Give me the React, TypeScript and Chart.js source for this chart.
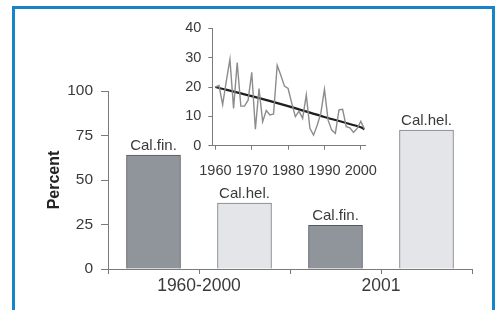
import React, { useEffect, useRef } from "react";
import { Chart, registerables } from "chart.js";

Chart.register(...registerables);

// ---- Main bar chart data ----
const groups = ["1960-2000", "2001"];
const barLabels = ["Cal.fin.", "Cal.hel.", "Cal.fin.", "Cal.hel."];
const barValues = [64, 37, 24.5, 78];
const barFill = ["#8f959b", "#e3e5e8", "#8f959b", "#e3e5e8"];
const barEdge = ["#55595d", "#7c7f82", "#55595d", "#7c7f82"];
const percentTicks = [0, 25, 50, 75, 100];

// ---- Inset line chart data ----
const years = [
  1960, 1961, 1962, 1963, 1964, 1965, 1966, 1967, 1968, 1969,
  1970, 1971, 1972, 1973, 1974, 1975, 1976, 1977, 1978, 1979,
  1980, 1981, 1982, 1983, 1984, 1985, 1986, 1987, 1988, 1989,
  1990, 1991, 1992, 1993, 1994, 1995, 1996, 1997, 1998, 1999,
  2000, 2001,
];
const annualValues = [
  20, 20.5, 14, 22, 29.5, 12.7, 28.3, 13.5, 13.5, 15.5,
  25, 5.6, 19.5, 8.2, 12, 10.5, 10.8, 27.4, 24, 20.3,
  19.5, 14.5, 9.9, 11.8, 9.3, 17.3, 5.9, 3.6, 7, 11,
  19.2, 8.7, 5.3, 4.2, 12.2, 12.4, 6.5, 6.1, 4.5, 5.9,
  8.3, 5.7,
];
const trendYears = [1960, 1970, 1980, 1990, 2000, 2001];
const trendValues = [20, 16.9, 13.5, 9.8, 6.3, 5.6];
const decadeTicks = [1960, 1970, 1980, 1990, 2000];

const FONT = "'Liberation Sans', Arial, Helvetica, sans-serif";
const TEXT = "#3a3a3a";
const AXIS = "#7a7a7a";

const barLabelPlugin = {
  id: "barLabels",
  afterDatasetsDraw(chart: any) {
    const meta = chart.getDatasetMeta(0);
    const ctx = chart.ctx;
    ctx.save();
    ctx.font = `15px ${FONT}`;
    ctx.fillStyle = TEXT;
    ctx.textAlign = "center";
    ctx.textBaseline = "bottom";
    meta.data.forEach((el: any, i: number) => {
      ctx.fillText(barLabels[i], el.x, el.y - 2);
    });
    ctx.restore();
  },
};

function MainChart() {
  const ref = useRef<HTMLCanvasElement>(null);
  useEffect(() => {
    Chart.defaults.font.family = FONT;
    const chart = new Chart(ref.current!, {
      type: "bar",
      data: {
        datasets: [
          {
            data: barValues.map((v, i) => ({ x: i + 0.5, y: v })),
            backgroundColor: barFill,
            borderColor: barEdge,
            borderWidth: 1,
            barThickness: 54,
          } as any,
        ],
      },
      options: {
        responsive: false,
        animation: false,
        events: [],
        layout: { padding: { left: 0, top: 91, right: 26, bottom: 0 } },
        plugins: { legend: { display: false }, tooltip: { enabled: false } },
        scales: {
          x: {
            type: "linear",
            min: 0,
            max: 4,
            offset: false,
            afterFit: (s: any) => {
              s.height = 41;
            },
            ticks: {
              stepSize: 1,
              autoSkip: false,
              maxRotation: 0,
              padding: 2,
              color: TEXT,
              font: { size: 17.5, family: FONT },
              callback: (v: any) => {
                const i = (Number(v) - 1) / 2;
                return Number.isInteger(i) && groups[i] ? groups[i] : "";
              },
            },
            grid: { drawOnChartArea: false, offset: false, tickLength: 5, color: AXIS },
            border: { color: AXIS },
          },
          y: {
            min: 0,
            max: 100,
            afterFit: (s: any) => {
              s.width = 108;
            },
            afterBuildTicks: (s: any) => {
              s.ticks = percentTicks.map((v) => ({ value: v }));
            },
            ticks: {
              padding: 8,
              color: TEXT,
              font: { size: 15.5, family: FONT },
            },
            grid: { drawOnChartArea: false, tickLength: 7, color: AXIS },
            border: { color: AXIS },
            title: {
              display: true,
              text: "Percent",
              color: "#222",
              font: { size: 16, weight: "bold", family: FONT },
              padding: { top: 45.4, bottom: 0 },
            },
          },
        },
      } as any,
      plugins: [barLabelPlugin],
    });
    return () => chart.destroy();
  }, []);
  return (
    <canvas
      ref={ref}
      width={498}
      height={310}
      style={{ position: "absolute", left: 0, top: 0, width: 498, height: 310 }}
    />
  );
}

function InsetChart() {
  const ref = useRef<HTMLCanvasElement>(null);
  useEffect(() => {
    const chart = new Chart(ref.current!, {
      type: "line",
      data: {
        datasets: [
          {
            data: years.map((y, i) => ({ x: y, y: annualValues[i] })),
            borderColor: "#8c8c8c",
            borderWidth: 1.4,
            pointRadius: 0,
            tension: 0,
          },
          {
            data: trendYears.map((y, i) => ({ x: y, y: trendValues[i] })),
            borderColor: "#1e1e1e",
            borderWidth: 2.2,
            pointRadius: 0,
            tension: 0.3,
          },
        ],
      },
      options: {
        responsive: false,
        animation: false,
        events: [],
        layout: { padding: { left: 0, top: 18.3, right: 18.3, bottom: 0 } },
        plugins: { legend: { display: false }, tooltip: { enabled: false } },
        scales: {
          x: {
            type: "linear",
            min: 1959.15,
            max: 2001.3,
            afterFit: (s: any) => {
              s.height = 44.3;
            },
            afterBuildTicks: (s: any) => {
              s.ticks = decadeTicks.map((v) => ({ value: v }));
            },
            ticks: {
              autoSkip: false,
              maxRotation: 0,
              padding: 12.5,
              color: TEXT,
              font: { size: 14.5, family: FONT },
              callback: (v: any) => String(v),
            },
            grid: { drawOnChartArea: false, tickLength: 4, color: AXIS },
            border: { color: AXIS },
          },
          y: {
            min: 0,
            max: 40,
            afterFit: (s: any) => {
              s.width = 62.3;
            },
            ticks: {
              stepSize: 10,
              padding: 7,
              color: TEXT,
              font: { size: 14.5, family: FONT },
            },
            grid: { drawOnChartArea: false, tickLength: 4, color: AXIS },
            border: { color: AXIS },
          },
        },
      } as any,
    });
    return () => chart.destroy();
  }, []);
  return (
    <canvas
      ref={ref}
      width={240}
      height={180}
      style={{ position: "absolute", left: 150, top: 10, width: 240, height: 180 }}
    />
  );
}

export default function App() {
  return (
    <div
      style={{
        position: "absolute",
        left: 0,
        top: 0,
        width: 498,
        height: 310,
        overflow: "hidden",
        background: "#ffffff",
      }}
    >
      <div
        style={{
          position: "absolute",
          left: 12,
          top: 6,
          width: 483,
          height: 340,
          boxSizing: "border-box",
          border: "3px solid #1784c7",
        }}
      />
      <MainChart />
      <InsetChart />
    </div>
  );
}
